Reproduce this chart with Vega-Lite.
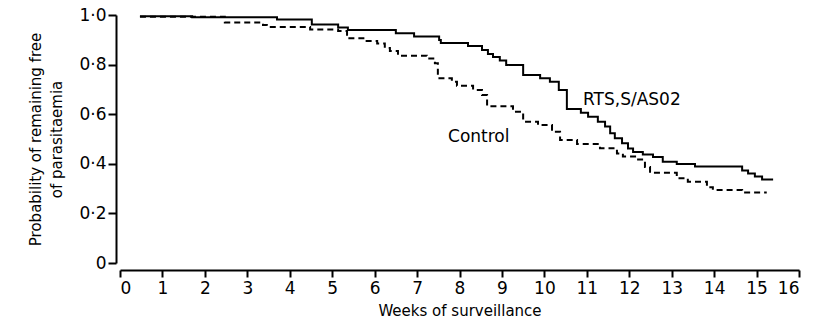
{
  "$schema": "https://vega.github.io/schema/vega-lite/v6.json",
  "width": 679,
  "height": 248,
  "autosize": {"type": "none"},
  "padding": {"left": 120, "top": 15, "right": 22, "bottom": 59},
  "background": "white",
  "config": {
    "view": {"stroke": null},
    "font": "DejaVu Sans",
    "axis": {
      "domainColor": "black",
      "domainWidth": 2,
      "tickColor": "black",
      "tickWidth": 2,
      "tickSize": 7,
      "grid": false,
      "labelColor": "black",
      "titleColor": "black",
      "labelFont": "DejaVu Sans",
      "titleFont": "DejaVu Sans",
      "labelFontSize": 17,
      "titleFontSize": 15,
      "titleFontWeight": "normal"
    }
  },
  "datasets": {
    "curves": [
      {"group": "RTS,S/AS02", "week": 0.47, "p": 0.995},
      {"group": "RTS,S/AS02", "week": 1.70, "p": 0.991},
      {"group": "RTS,S/AS02", "week": 3.70, "p": 0.982},
      {"group": "RTS,S/AS02", "week": 4.52, "p": 0.962},
      {"group": "RTS,S/AS02", "week": 5.14, "p": 0.950},
      {"group": "RTS,S/AS02", "week": 5.37, "p": 0.940},
      {"group": "RTS,S/AS02", "week": 6.50, "p": 0.926},
      {"group": "RTS,S/AS02", "week": 6.93, "p": 0.913},
      {"group": "RTS,S/AS02", "week": 7.52, "p": 0.899},
      {"group": "RTS,S/AS02", "week": 7.56, "p": 0.887},
      {"group": "RTS,S/AS02", "week": 8.20, "p": 0.875},
      {"group": "RTS,S/AS02", "week": 8.53, "p": 0.859},
      {"group": "RTS,S/AS02", "week": 8.67, "p": 0.843},
      {"group": "RTS,S/AS02", "week": 8.79, "p": 0.831},
      {"group": "RTS,S/AS02", "week": 8.95, "p": 0.817},
      {"group": "RTS,S/AS02", "week": 9.10, "p": 0.798},
      {"group": "RTS,S/AS02", "week": 9.50, "p": 0.758},
      {"group": "RTS,S/AS02", "week": 9.90, "p": 0.745},
      {"group": "RTS,S/AS02", "week": 10.13, "p": 0.731},
      {"group": "RTS,S/AS02", "week": 10.34, "p": 0.698},
      {"group": "RTS,S/AS02", "week": 10.53, "p": 0.621},
      {"group": "RTS,S/AS02", "week": 10.86, "p": 0.606},
      {"group": "RTS,S/AS02", "week": 11.03, "p": 0.590},
      {"group": "RTS,S/AS02", "week": 11.26, "p": 0.570},
      {"group": "RTS,S/AS02", "week": 11.43, "p": 0.550},
      {"group": "RTS,S/AS02", "week": 11.55, "p": 0.523},
      {"group": "RTS,S/AS02", "week": 11.66, "p": 0.503},
      {"group": "RTS,S/AS02", "week": 11.83, "p": 0.483},
      {"group": "RTS,S/AS02", "week": 11.97, "p": 0.462},
      {"group": "RTS,S/AS02", "week": 12.09, "p": 0.448},
      {"group": "RTS,S/AS02", "week": 12.32, "p": 0.438},
      {"group": "RTS,S/AS02", "week": 12.56, "p": 0.427},
      {"group": "RTS,S/AS02", "week": 12.79, "p": 0.408},
      {"group": "RTS,S/AS02", "week": 13.12, "p": 0.399},
      {"group": "RTS,S/AS02", "week": 13.55, "p": 0.389},
      {"group": "RTS,S/AS02", "week": 14.66, "p": 0.373},
      {"group": "RTS,S/AS02", "week": 14.80, "p": 0.361},
      {"group": "RTS,S/AS02", "week": 14.96, "p": 0.349},
      {"group": "RTS,S/AS02", "week": 15.13, "p": 0.337},
      {"group": "RTS,S/AS02", "week": 15.39, "p": 0.337},
      {"group": "Control", "week": 0.47, "p": 0.993},
      {"group": "Control", "week": 2.47, "p": 0.970},
      {"group": "Control", "week": 3.37, "p": 0.960},
      {"group": "Control", "week": 3.46, "p": 0.952},
      {"group": "Control", "week": 4.48, "p": 0.942},
      {"group": "Control", "week": 5.14, "p": 0.935},
      {"group": "Control", "week": 5.35, "p": 0.906},
      {"group": "Control", "week": 5.77, "p": 0.895},
      {"group": "Control", "week": 6.06, "p": 0.885},
      {"group": "Control", "week": 6.24, "p": 0.867},
      {"group": "Control", "week": 6.36, "p": 0.855},
      {"group": "Control", "week": 6.55, "p": 0.836},
      {"group": "Control", "week": 7.23, "p": 0.825},
      {"group": "Control", "week": 7.42, "p": 0.805},
      {"group": "Control", "week": 7.49, "p": 0.745},
      {"group": "Control", "week": 7.82, "p": 0.731},
      {"group": "Control", "week": 7.94, "p": 0.715},
      {"group": "Control", "week": 8.32, "p": 0.698},
      {"group": "Control", "week": 8.53, "p": 0.677},
      {"group": "Control", "week": 8.65, "p": 0.632},
      {"group": "Control", "week": 9.26, "p": 0.610},
      {"group": "Control", "week": 9.50, "p": 0.570},
      {"group": "Control", "week": 9.85, "p": 0.556},
      {"group": "Control", "week": 10.18, "p": 0.529},
      {"group": "Control", "week": 10.37, "p": 0.496},
      {"group": "Control", "week": 10.77, "p": 0.480},
      {"group": "Control", "week": 11.31, "p": 0.463},
      {"group": "Control", "week": 11.71, "p": 0.442},
      {"group": "Control", "week": 11.85, "p": 0.429},
      {"group": "Control", "week": 12.18, "p": 0.417},
      {"group": "Control", "week": 12.37, "p": 0.387},
      {"group": "Control", "week": 12.49, "p": 0.364},
      {"group": "Control", "week": 13.12, "p": 0.342},
      {"group": "Control", "week": 13.38, "p": 0.328},
      {"group": "Control", "week": 13.83, "p": 0.305},
      {"group": "Control", "week": 13.97, "p": 0.294},
      {"group": "Control", "week": 14.66, "p": 0.284},
      {"group": "Control", "week": 15.24, "p": 0.284}
    ],
    "labels": [
      {"label": "RTS,S/AS02", "week": 10.91, "p": 0.657},
      {"label": "Control", "week": 7.73, "p": 0.508}
    ]
  },
  "layer": [
    {
      "data": {"name": "curves"},
      "mark": {"type": "line", "interpolate": "step-after", "strokeWidth": 2, "color": "black"},
      "encoding": {
        "x": {
          "field": "week", "type": "quantitative",
          "scale": {"domain": [0, 16], "nice": false, "zero": false},
          "axis": {
            "values": [0,1,2,3,4,5,6,7,8,9,10,11,12,13,14,15,16],
            "offset": 7,
            "labelPadding": 3,
            "title": "Weeks of surveillance",
            "titlePadding": 7
          }
        },
        "y": {
          "field": "p", "type": "quantitative",
          "scale": {"domain": [0, 1], "nice": false},
          "axis": {
            "values": [0, 0.2, 0.4, 0.6, 0.8, 1.0],
            "offset": 4,
            "tickSize": 8,
            "labelPadding": 2,
            "labelExpr": "datum.value == 0 ? '0' : replace(format(datum.value, '.1f'), '.', '·')",
            "title": ["Probability of remaining free", "of parasitaemia"],
            "titleLineHeight": 21,
            "titlePadding": 14
          }
        },
        "detail": {"field": "group"},
        "strokeDash": {
          "field": "group", "type": "nominal",
          "scale": {"domain": ["RTS,S/AS02", "Control"], "range": [[1, 0], [6, 4]]},
          "legend": null
        }
      }
    },
    {
      "data": {"name": "labels"},
      "mark": {"type": "text", "align": "left", "baseline": "middle", "fontSize": 17, "font": "DejaVu Sans", "color": "black"},
      "encoding": {
        "x": {"field": "week", "type": "quantitative"},
        "y": {"field": "p", "type": "quantitative"},
        "text": {"field": "label"}
      }
    }
  ]
}
